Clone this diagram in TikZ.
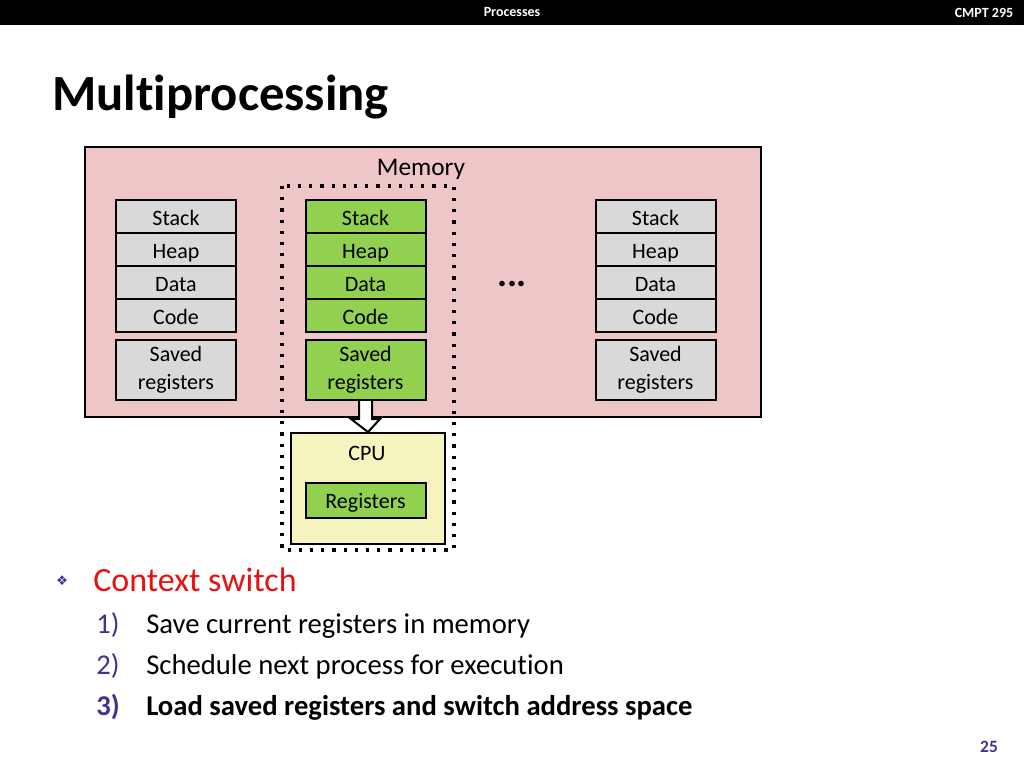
\documentclass[tikz,border=0pt]{standalone}
\usepackage{fontspec}
\setmainfont{Carlito}[Ligatures={NoCommon}]
\newfontfamily\symfont{DejaVu Sans}
\usetikzlibrary{calc}
\definecolor{memPink}{RGB}{239,198,200}
\definecolor{segGray}{RGB}{217,217,217}
\definecolor{segGreen}{RGB}{146,208,80}
\definecolor{cpuYellow}{RGB}{245,243,190}
\definecolor{numPurple}{RGB}{64,50,148}
\definecolor{ctxRed}{RGB}{232,16,16}
\begin{document}
\begin{tikzpicture}[x=0.75pt, y=-0.75pt,
  seg/.style={draw, line width=1.5pt, fill=segGray, minimum width=90pt, minimum height=24.75pt,
    inner sep=0pt, text height=14pt, text depth=1.2pt, font=\fontsize{16.5}{19}\selectfont},
  savedseg/.style={seg, minimum height=45pt, align=center, text height=, text depth=,
    font=\fontsize{16.5}{21}\selectfont},
  active/.style={fill=segGreen},
  listnum/.style={anchor=base west, inner sep=0pt, numPurple, font=\fontsize{21.5}{24}\selectfont},
  listtxt/.style={anchor=base west, inner sep=0pt, font=\fontsize{21.5}{24}\selectfont}]
  \useasboundingbox (0,0) rectangle (1024,768);
  % header bar
  \fill[black] (0,0) rectangle (1024,25);
  \node[white, font=\fontsize{10.5}{12}\selectfont\bfseries] (hdr) at (512,12.5) {Processes};
  \node[white, font=\fontsize{10.5}{12}\selectfont\bfseries] (course) at (984,12.5) {CMPT 295};
  \node[anchor=base west, inner sep=0pt, font=\fontsize{38}{40}\selectfont\bfseries] (title) at (52,110) {Multiprocessing};
  % memory
  \node[draw, line width=1.5pt, fill=memPink, anchor=north west, minimum width=507pt,
    minimum height=202.5pt, inner sep=0pt] (mem) at (84,146) {};
  \node[font=\fontsize{19}{22}\selectfont] (memlbl) at (421,169) {Memory};
  % running process + cpu
  \draw[line width=2.4pt, dash pattern=on 2.4pt off 6pt] (282,186) rectangle (454,550);
  % process 1
  \node[seg] (s1) at (176,216.5) {Stack};
  \node[seg] (h1) at (176,249.5) {Heap};
  \node[seg] (d1) at (176,282.5) {Data};
  \node[seg] (c1) at (176,315.5) {Code};
  \node[savedseg] (r1) at (176,370) {Saved\\registers};
  % process 2 (running)
  \node[seg, active] (s2) at (365.5,216.5) {Stack};
  \node[seg, active] (h2) at (365.5,249.5) {Heap};
  \node[seg, active] (d2) at (365.5,282.5) {Data};
  \node[seg, active] (c2) at (365.5,315.5) {Code};
  \node[savedseg, active] (r2) at (365.5,370) {Saved\\registers};
  % process n
  \node[seg] (s3) at (655.5,216.5) {Stack};
  \node[seg] (h3) at (655.5,249.5) {Heap};
  \node[seg] (d3) at (655.5,282.5) {Data};
  \node[seg] (c3) at (655.5,315.5) {Code};
  \node[savedseg] (r3) at (655.5,370) {Saved\\registers};
  \node[font=\fontsize{28}{30}\selectfont\bfseries] (more) at (512,284) {...};
  % cpu
  \node[draw, line width=1.5pt, fill=cpuYellow, anchor=north west, minimum width=115.5pt,
    minimum height=83.25pt, inner sep=0pt] (cpu) at (290,432) {};
  \node[font=\fontsize{16.5}{19}\selectfont] (cpulbl) at (367,453) {CPU};
  \node[seg, active, minimum height=26.25pt] (regs) at (365.5,500) {Registers};
  % load arrow
  \draw[line width=1.5pt, fill=white, line join=miter]
    ($(r2.south)+(-6.5,0)$) -- ($(r2.south)+(-6.5,18)$) -- ($(r2.south)+(-14.5,18)$)
    -- (cpu.north) -- ($(r2.south)+(14.5,18)$) -- ($(r2.south)+(6.5,18)$) -- ($(r2.south)+(6.5,0)$);
  % context switch steps
  \node[numPurple, font=\symfont\fontsize{10}{11}\selectfont] (bul) at (62,581) {❖};
  \node[anchor=base west, inner sep=0pt, ctxRed, font=\fontsize{25.5}{28}\selectfont] (ctx) at (93,591) {Context switch};
  \node[listnum] (n1) at (96,633) {1)};
  \node[listtxt] (t1) at (146,633) {Save current registers in memory};
  \node[listnum] (n2) at (96,674) {2)};
  \node[listtxt] (t2) at (146,674) {Schedule next process for execution};
  \node[listnum, font=\fontsize{21.5}{24}\selectfont\bfseries] (n3) at (96,715) {3)};
  \node[listtxt, font=\fontsize{21.5}{24}\selectfont\bfseries] (t3) at (146,715) {Load saved registers and switch address space};
  \node[numPurple, font=\fontsize{13}{15}\selectfont\bfseries] (pg) at (989,747) {25};
\end{tikzpicture}
\end{document}
